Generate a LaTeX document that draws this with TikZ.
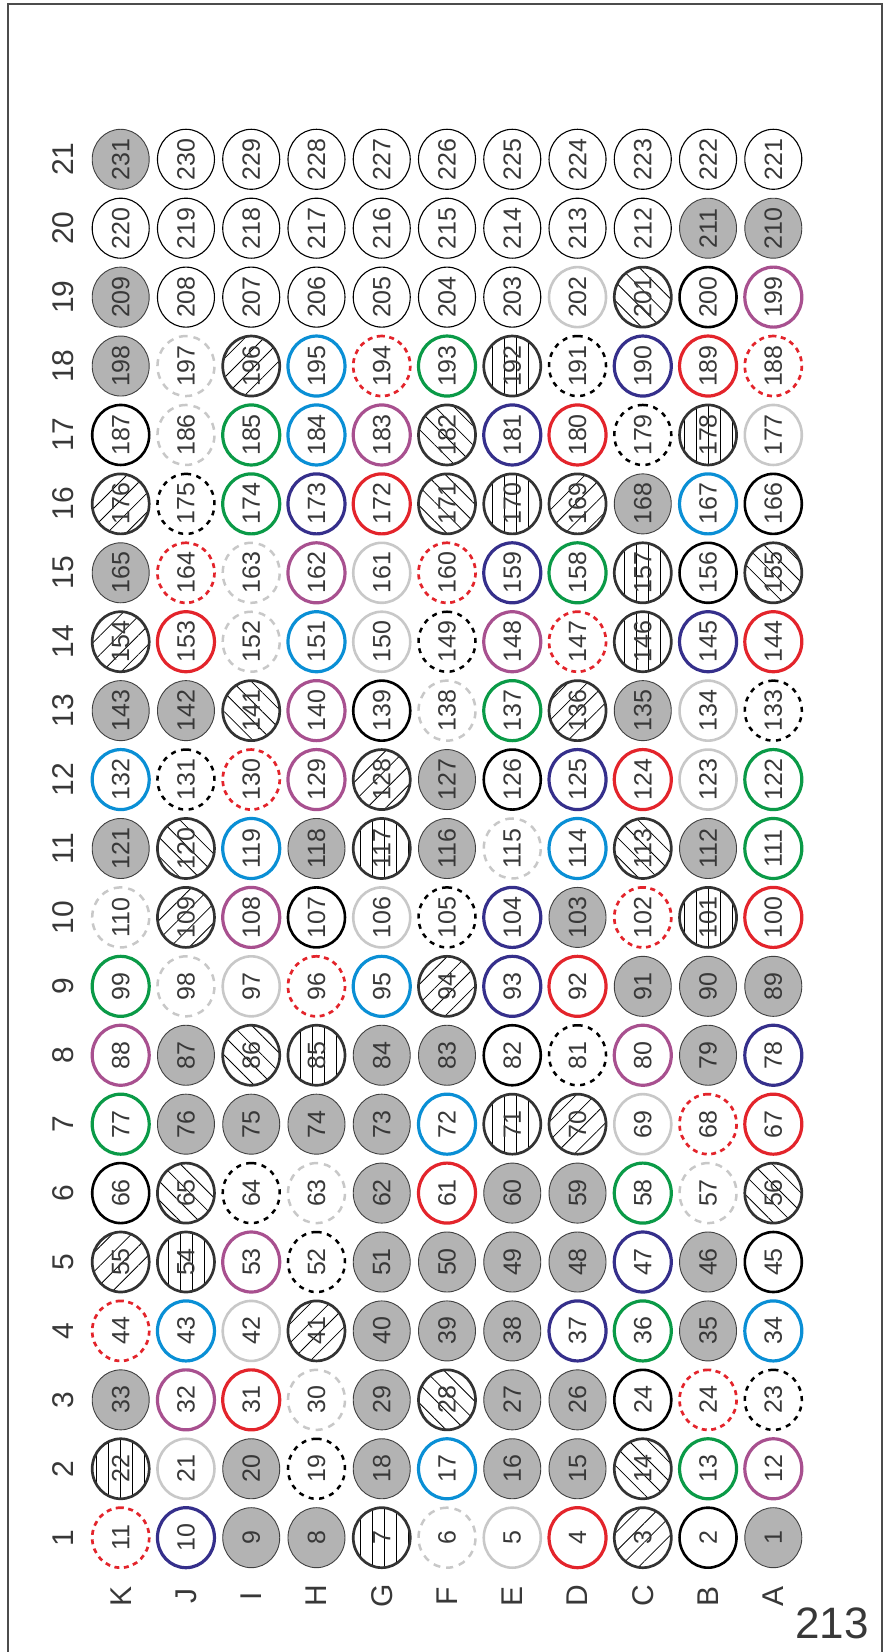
\documentclass[tikz,border=0pt]{standalone}
\usepackage{fontspec}
\setmainfont{Liberation Sans}
\usetikzlibrary{shapes.geometric,patterns.meta}

\definecolor{cred}{HTML}{E3242B}
\definecolor{cnavy}{HTML}{352F8B}
\definecolor{cblue}{HTML}{0A8FD5}
\definecolor{cgreen}{HTML}{0A9A47}
\definecolor{cmag}{HTML}{A8508F}
\definecolor{cfill}{HTML}{B3B3B3}
\definecolor{clight}{HTML}{C8C8C8}
\definecolor{ctext}{HTML}{383838}

\begin{document}
\begin{tikzpicture}[
  x=1pt, y=1pt,
  well/.style={ellipse, rotate=90, minimum width=60pt, minimum height=57pt,
               inner sep=0pt, text=ctext, font=\fontsize{25}{25}\selectfont},
  wg/.style={draw=black!75, fill=cfill, line width=0.9pt},
  wt/.style={draw=black, line width=1.1pt},
  wk/.style={draw=black, line width=2.6pt},
  wkd/.style={draw=black, line width=2.5pt, dash pattern=on 5pt off 5.5pt},
  wl/.style={draw=clight, line width=2.6pt},
  wld/.style={draw=clight, line width=2.5pt, dash pattern=on 7pt off 6pt},
  wr/.style={draw=cred, line width=3.2pt},
  wrd/.style={draw=cred, line width=2.7pt, dash pattern=on 5pt off 4.5pt},
  wn/.style={draw=cnavy, line width=3.2pt},
  wb/.style={draw=cblue, line width=3.2pt},
  wgr/.style={draw=cgreen, line width=3.2pt},
  wm/.style={draw=cmag, line width=3.2pt},
  hatch/.style={draw=black!80, line width=2.7pt, pattern color=black},
  wne/.style={hatch, pattern={Lines[angle=45, distance=13.5pt, line width=0.8pt]}},
  wnw/.style={hatch, pattern={Lines[angle=-45, distance=13.5pt, line width=0.8pt]}},
  wv/.style={hatch, pattern={Lines[angle=90, distance=12pt, line width=0.8pt]}},
  axis/.style={rotate=90, text=ctext, font=\fontsize{30}{30}\selectfont}
]
  \useasboundingbox (0,0) rectangle (884,1652);
  \draw[line width=1.3pt, black!70] (8,0) -- (8,1648) -- (882,1648) -- (882,0);

  % plate: one list per row, columns K ... A
  \foreach \rw/\cells in {
    1/{wrd/11,wn/10,wg/9,wg/8,wv/7,wld/6,wl/5,wr/4,wne/3,wk/2,wg/1},
    2/{wv/22,wl/21,wg/20,wkd/19,wg/18,wb/17,wg/16,wg/15,wnw/14,wgr/13,wm/12},
    3/{wg/33,wm/32,wr/31,wld/30,wg/29,wnw/28,wg/27,wg/26,wk/24,wrd/24,wkd/23},
    4/{wrd/44,wb/43,wl/42,wne/41,wg/40,wg/39,wg/38,wn/37,wgr/36,wg/35,wb/34},
    5/{wne/55,wv/54,wm/53,wkd/52,wg/51,wg/50,wg/49,wg/48,wn/47,wg/46,wk/45},
    6/{wk/66,wnw/65,wkd/64,wld/63,wg/62,wr/61,wg/60,wg/59,wgr/58,wld/57,wnw/56},
    7/{wgr/77,wg/76,wg/75,wg/74,wg/73,wb/72,wv/71,wne/70,wl/69,wrd/68,wr/67},
    8/{wm/88,wg/87,wnw/86,wv/85,wg/84,wg/83,wk/82,wkd/81,wm/80,wg/79,wn/78},
    9/{wgr/99,wld/98,wl/97,wrd/96,wb/95,wne/94,wn/93,wr/92,wg/91,wg/90,wg/89},
    10/{wld/110,wne/109,wm/108,wk/107,wl/106,wkd/105,wn/104,wg/103,wrd/102,wv/101,wr/100},
    11/{wg/121,wnw/120,wb/119,wg/118,wv/117,wg/116,wld/115,wb/114,wnw/113,wg/112,wgr/111},
    12/{wb/132,wkd/131,wrd/130,wm/129,wne/128,wg/127,wk/126,wn/125,wr/124,wl/123,wgr/122},
    13/{wg/143,wg/142,wnw/141,wm/140,wk/139,wld/138,wgr/137,wne/136,wg/135,wl/134,wkd/133},
    14/{wne/154,wr/153,wld/152,wb/151,wl/150,wkd/149,wm/148,wrd/147,wv/146,wn/145,wr/144},
    15/{wg/165,wrd/164,wld/163,wm/162,wl/161,wrd/160,wn/159,wgr/158,wv/157,wk/156,wnw/155},
    16/{wne/176,wkd/175,wgr/174,wn/173,wr/172,wnw/171,wv/170,wne/169,wg/168,wb/167,wk/166},
    17/{wk/187,wld/186,wgr/185,wb/184,wm/183,wnw/182,wn/181,wr/180,wkd/179,wv/178,wl/177},
    18/{wg/198,wld/197,wne/196,wb/195,wrd/194,wgr/193,wv/192,wkd/191,wn/190,wr/189,wrd/188},
    19/{wg/209,wt/208,wt/207,wt/206,wt/205,wt/204,wt/203,wl/202,wnw/201,wk/200,wm/199},
    20/{wt/220,wt/219,wt/218,wt/217,wt/216,wt/215,wt/214,wt/213,wt/212,wg/211,wg/210},
    21/{wg/231,wt/230,wt/229,wt/228,wt/227,wt/226,wt/225,wt/224,wt/223,wt/222,wt/221}%
  }{
    \foreach \st/\num [count=\col] in \cells
      \node[well, \st] (cell-\rw-\col)
        at ({120.7+(\col-1)*65.26}, {114.3+(\rw-1)*68.92}) {\num};
  }

  % row numbers and column letters
  \foreach \rw in {1,...,21}
    \node[axis] (row\rw) at (63, {114.3+(\rw-1)*68.92}) {\rw};
  \foreach \lt [count=\col] in {K,J,I,H,G,F,E,D,C,B,A}
    \node[axis] (col\lt) at ({120.7+(\col-1)*65.26}, 56) {\lt};

  \node[text=ctext, font=\fontsize{44}{44}\selectfont] (plate) at (832,29) {213};
\end{tikzpicture}
\end{document}
